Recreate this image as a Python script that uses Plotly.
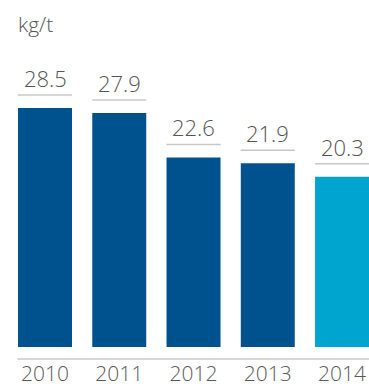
import plotly.graph_objects as go

years = ["2010", "2011", "2012", "2013", "2014"]
values = [28.5, 27.9, 22.6, 21.9, 20.3]
value_labels = ["28.5", "27.9", "22.6", "21.9", "20.3"]
bar_colors = ["#00528f", "#00528f", "#00528f", "#00528f", "#00a5cf"]
unit_label = "kg/t"

text_color = "#555555"
rule_color = "#c8c8c8"
font_family = "Open Sans, sans-serif"

fig = go.Figure(
    go.Bar(
        x=years,
        y=values,
        marker=dict(color=bar_colors, line=dict(width=0)),
        hoverinfo="skip",
    )
)

# value labels with a thin rule between each label and its bar
for i, (v, lab) in enumerate(zip(values, value_labels)):
    fig.add_shape(
        type="line",
        xref="x", yref="y",
        x0=i - 0.364, x1=i + 0.364,
        ysizemode="pixel", yanchor=v, y0=13, y1=13,
        line=dict(color=rule_color, width=1.5),
    )
    fig.add_annotation(
        x=i, y=v, xref="x", yref="y",
        text=lab, showarrow=False,
        yanchor="middle", yshift=30,
        font=dict(family=font_family, size=22, color=text_color, weight=300),
    )

# baseline rule under the bars
fig.add_shape(
    type="line", xref="paper", yref="paper",
    x0=0.047, x1=1, y0=0, y1=0,
    line=dict(color=rule_color, width=1.5),
)

# unit label in the top-left corner
fig.add_annotation(
    x=0, y=1, xref="paper", yref="paper",
    text=unit_label, showarrow=False,
    xanchor="left", yanchor="middle", xshift=16, yshift=-24,
    font=dict(family=font_family, size=21, color=text_color, weight=300),
)

fig.update_layout(
    width=369, height=387,
    margin=dict(l=0, r=0, t=0, b=28),
    paper_bgcolor="white", plot_bgcolor="white",
    bargap=0.273,
    showlegend=False,
    xaxis=dict(
        type="category",
        range=[-0.606, 4.363],
        showgrid=False, zeroline=False, showline=False,
        ticks="",
        tickfont=dict(family=font_family, size=21, color="#5a5a5a", weight=300),
        ticklabelstandoff=0,
        fixedrange=True,
    ),
    yaxis=dict(
        range=[-1.431, 41.38],
        visible=False,
        fixedrange=True,
    ),
)

fig.write_html("out.html")
